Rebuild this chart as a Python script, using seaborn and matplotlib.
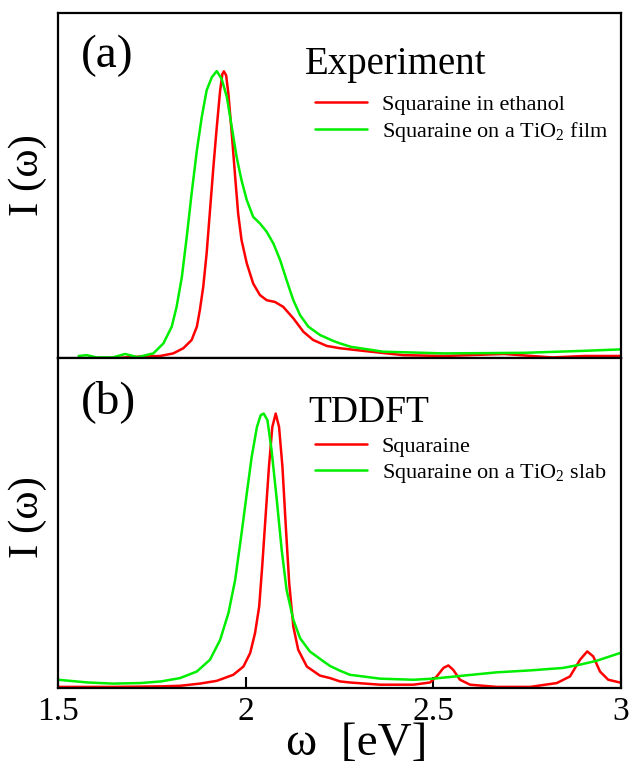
import numpy as np
import pandas as pd
import matplotlib
matplotlib.use("Agg")
import matplotlib.pyplot as plt
import seaborn as sns

# ---------------- data ----------------
# Panel (a): Experiment
exp_eth_x = [1.655, 1.7185, 1.772, 1.807, 1.834, 1.856, 1.870, 1.878, 1.887, 1.896,
             1.905, 1.914, 1.923, 1.932, 1.938, 1.942, 1.948, 1.954, 1.963, 1.972,
             1.980, 1.989, 2.003, 2.020, 2.038, 2.056, 2.078, 2.100, 2.127, 2.154,
             2.180, 2.216, 2.251, 2.312, 2.420, 2.527, 2.688, 2.817, 2.903, 3.000]
exp_eth_y = [0.000, 0.005, 0.007, 0.016, 0.034, 0.0625, 0.109, 0.167, 0.248, 0.364,
             0.514, 0.664, 0.803, 0.931, 0.988, 0.997, 0.983, 0.919, 0.780, 0.630,
             0.502, 0.410, 0.329, 0.259, 0.219, 0.201, 0.195, 0.178, 0.138, 0.091,
             0.0625, 0.042, 0.034, 0.025, 0.010, 0.007, 0.014, 0.002, 0.007, 0.007]

exp_tio2_x = [1.555, 1.576, 1.603, 1.646, 1.679, 1.711, 1.7185, 1.754, 1.781, 1.803,
              1.816, 1.830, 1.843, 1.856, 1.870, 1.883, 1.896, 1.910, 1.923, 1.936,
              1.950, 1.963, 1.976, 1.989, 2.003, 2.020, 2.038, 2.056, 2.074, 2.092,
              2.109, 2.127, 2.145, 2.167, 2.198, 2.234, 2.251, 2.280, 2.366, 2.527,
              2.742, 2.903, 3.000]
exp_tio2_y = [0.007, 0.010, 0.002, 0.002, 0.014, 0.003, 0.005, 0.016, 0.051, 0.109,
              0.178, 0.282, 0.421, 0.572, 0.722, 0.838, 0.931, 0.977, 0.998, 0.971,
              0.907, 0.803, 0.699, 0.618, 0.549, 0.491, 0.468, 0.439, 0.398, 0.340,
              0.271, 0.201, 0.149, 0.109, 0.080, 0.059, 0.051, 0.039, 0.022, 0.016,
              0.018, 0.025, 0.030]

# Panel (b): TDDFT
th_sq_x = [1.500, 1.650, 1.775, 1.825, 1.878, 1.923, 1.967, 1.994, 2.012, 2.025,
           2.036, 2.044, 2.053, 2.062, 2.071, 2.080, 2.089, 2.098, 2.107, 2.116,
           2.127, 2.140, 2.163, 2.198, 2.225, 2.251, 2.278, 2.358, 2.447, 2.491,
           2.509, 2.527, 2.540, 2.553, 2.571, 2.598, 2.669, 2.758, 2.829, 2.864,
           2.891, 2.910, 2.926, 2.944, 2.966, 2.997]
th_sq_y = [0.004, 0.004, 0.006, 0.008, 0.016, 0.026, 0.048, 0.078, 0.127, 0.200,
           0.296, 0.441, 0.623, 0.804, 0.949, 0.998, 0.949, 0.804, 0.586, 0.381,
           0.223, 0.139, 0.078, 0.045, 0.036, 0.024, 0.020, 0.012, 0.012, 0.020,
           0.042, 0.073, 0.082, 0.066, 0.030, 0.012, 0.004, 0.004, 0.018, 0.042,
           0.103, 0.133, 0.115, 0.060, 0.030, 0.020]

th_tio2_x = [1.500, 1.580, 1.646, 1.720, 1.775, 1.825, 1.870, 1.905, 1.932, 1.954,
             1.972, 1.989, 2.003, 2.016, 2.030, 2.040, 2.048, 2.058, 2.069, 2.083,
             2.096, 2.109, 2.127, 2.145, 2.171, 2.207, 2.225, 2.251, 2.278, 2.358,
             2.447, 2.500, 2.580, 2.669, 2.758, 2.846, 2.891, 2.935, 2.997]
th_tio2_y = [0.030, 0.020, 0.016, 0.018, 0.024, 0.036, 0.060, 0.103, 0.175, 0.272,
             0.393, 0.562, 0.708, 0.840, 0.949, 0.992, 0.998, 0.974, 0.865, 0.683,
             0.502, 0.357, 0.248, 0.181, 0.133, 0.097, 0.080, 0.063, 0.048, 0.034,
             0.030, 0.034, 0.045, 0.057, 0.064, 0.073, 0.085, 0.099, 0.127]

x_ticks = [1.5, 2, 2.5, 3]
x_ticklabels = ["1.5", "2", "2.5", "3"]

labels_a = ["Squaraine in ethanol", "Squaraine on a TiO$_2$ film"]
labels_b = ["Squaraine", "Squaraine on a TiO$_2$ slab"]

RED = "#ff0000"
GREEN = "#00ee00"

# ---------------- style ----------------
sns.set_theme(style="white")
plt.rcParams["font.family"] = ["Liberation Serif", "DejaVu Serif"]
plt.rcParams["mathtext.fontset"] = "custom"
plt.rcParams["mathtext.rm"] = "Liberation Serif"
plt.rcParams["mathtext.it"] = "Liberation Serif:italic"
plt.rcParams["axes.edgecolor"] = "black"
plt.rcParams["text.color"] = "black"
plt.rcParams["xtick.color"] = "black"
plt.rcParams["xtick.labelcolor"] = "black"

W, H = 630, 764
fig = plt.figure(figsize=(W / 100, H / 100), dpi=100)

def fx(px):
    return px / W

def fy(py):
    return (H - py) / H

ax_a = fig.add_axes([fx(58), fy(358), (621 - 58) / W, (358 - 13) / H])
ax_b = fig.add_axes([fx(58), fy(688), (621 - 58) / W, (688 - 358) / H])

lw = 1.8
df_a1 = pd.DataFrame({"x": exp_eth_x, "y": exp_eth_y})
df_a2 = pd.DataFrame({"x": exp_tio2_x, "y": exp_tio2_y})
df_b1 = pd.DataFrame({"x": th_sq_x, "y": th_sq_y})
df_b2 = pd.DataFrame({"x": th_tio2_x, "y": th_tio2_y})

sns.lineplot(data=df_a1, x="x", y="y", ax=ax_a, color=RED, lw=lw, label=labels_a[0], sort=False)
sns.lineplot(data=df_a2, x="x", y="y", ax=ax_a, color=GREEN, lw=lw, label=labels_a[1], sort=False)
sns.lineplot(data=df_b1, x="x", y="y", ax=ax_b, color=RED, lw=lw, label=labels_b[0], sort=False)
sns.lineplot(data=df_b2, x="x", y="y", ax=ax_b, color=GREEN, lw=lw, label=labels_b[1], sort=False)

for ax in (ax_a, ax_b):
    ax.set_xlim(1.5, 3.0)
    ax.set_ylim(0, 1.2)
    ax.set_xlabel("")
    ax.set_ylabel("")
    ax.set_yticks([])
    for s in ax.spines.values():
        s.set_linewidth(1.6)
        s.set_color("black")
        s.set_visible(True)

ax_a.set_xticks([])
ax_b.set_xticks(x_ticks)
ax_b.set_xticklabels(x_ticklabels)
ax_b.tick_params(axis="x", direction="in", length=8, width=1.5, pad=6,
                 labelsize=24, bottom=True, top=False, colors="black")

leg_fs = 16
for ax, top_px in ((ax_a, 94), (ax_b, 436)):
    leg = ax.legend(loc="upper left", frameon=False, fontsize=leg_fs,
                    bbox_to_anchor=(fx(315), fy(top_px)), bbox_transform=fig.transFigure,
                    borderpad=0, borderaxespad=0, handlelength=2.35, handletextpad=0.66,
                    labelspacing=0.25)
    for t in leg.get_texts():
        t.set_color("black")

# panel texts
fig.text(fx(81), fy(67), "(a)", fontsize=34, va="baseline", ha="left")
fig.text(fx(305), fy(74), "Experiment", fontsize=28, va="baseline", ha="left")
fig.text(fx(81), fy(413), "(b)", fontsize=34, va="baseline", ha="left")
fig.text(fx(308), fy(422), "TDDFT", fontsize=27, va="baseline", ha="left")

# axis labels
fig.text(fx(28), fy(175), "I (ω)", fontsize=31, rotation=90, ha="center", va="center")
fig.text(fx(28), fy(517), "I (ω)", fontsize=31, rotation=90, ha="center", va="center")
fig.text(fx(357), fy(755), "ω  [eV]", fontsize=34, ha="center", va="baseline")

fig.savefig("out.png", dpi=100)
